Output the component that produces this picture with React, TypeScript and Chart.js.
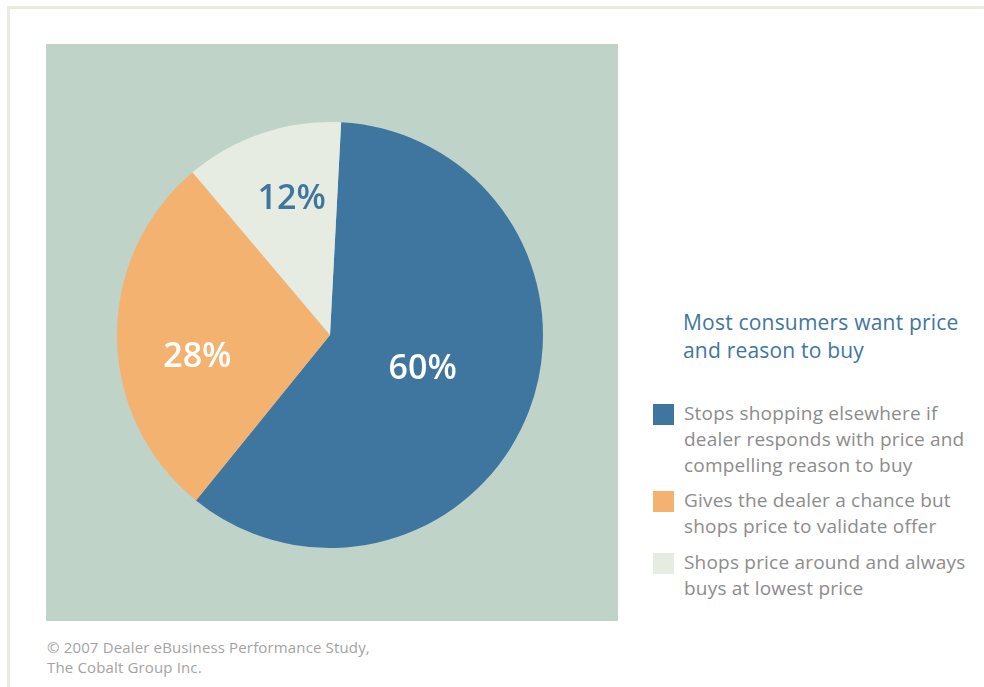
import React, { useEffect, useRef } from "react";
import { Chart, registerables } from "chart.js";

Chart.register(...registerables);

const categories = [
  "Stops shopping elsewhere if dealer responds with price and compelling reason to buy",
  "Gives the dealer a chance but shops price to validate offer",
  "Shops price around and always buys at lowest price",
];
const legendLines = [
  ["Stops shopping elsewhere if", "dealer responds with price and", "compelling reason to buy"],
  ["Gives the dealer a chance but", "shops price to validate offer"],
  ["Shops price around and always", "buys at lowest price"],
];
const values = [60, 28, 12];
const valueLabels = ["60%", "28%", "12%"];
const colors = ["#3F76A0", "#F3B26F", "#E6ECE2"];
const labelColors = ["#FFFFFF", "#FFFFFF", "#3F76A0"];
const labelRadius = [0.46, 0.63, 0.67];
const labelAngleShift = [-2, -8, 3];
const title = ["Most consumers want price", "and reason to buy"];
const footnote = ["© 2007 Dealer eBusiness Performance Study,", "The Cobalt Group Inc."];

const FONT = "'Open Sans', 'Noto Sans', sans-serif";

const labelPlugin = {
  id: "sliceLabels",
  afterDatasetsDraw(chart: any) {
    const ctx = chart.ctx;
    const meta = chart.getDatasetMeta(0);
    meta.data.forEach((arc: any, i: number) => {
      const mid = (arc.startAngle + arc.endAngle) / 2 + (labelAngleShift[i] * Math.PI) / 180;
      const r = arc.outerRadius * labelRadius[i];
      const x = arc.x + Math.cos(mid) * r;
      const y = arc.y + Math.sin(mid) * r + 2;
      ctx.save();
      ctx.font = `600 34px ${FONT}`;
      ctx.fillStyle = labelColors[i];
      ctx.textAlign = "center";
      ctx.textBaseline = "middle";
      ctx.fillText(valueLabels[i], x, y);
      ctx.restore();
    });
  },
};

export default function App() {
  const ref = useRef<HTMLCanvasElement>(null);
  useEffect(() => {
    if (!ref.current) return;
    const chart = new Chart(ref.current, {
      type: "pie",
      data: {
        labels: categories,
        datasets: [
          {
            data: values,
            backgroundColor: colors,
            borderWidth: 0,
          },
        ],
      },
      options: {
        animation: false,
        responsive: false,
        rotation: 3,
        layout: { padding: { left: 71, right: 75, top: 78, bottom: 73 } },
        plugins: { legend: { display: false }, tooltip: { enabled: false } },
      },
      plugins: [labelPlugin],
    });
    return () => chart.destroy();
  }, []);

  return (
    <div style={{ position: "absolute", left: 0, top: 0, width: 984, height: 687, background: "#fff", overflow: "hidden", fontFamily: FONT }}>
      <div style={{ position: "absolute", left: 7, top: 6, width: 990, height: 700, borderTop: "3px solid #E8EBE0", borderLeft: "3px solid #E8EBE0" }} />
      <div style={{ position: "absolute", left: 46, top: 44, width: 572, height: 577, background: "#BFD3C8" }}>
        <canvas ref={ref} width={572} height={577} style={{ display: "block", width: 572, height: 577 }} />
      </div>
      <div style={{ position: "absolute", left: 683, top: 308, color: "#3F76A0", fontSize: 21, letterSpacing: 0.2, lineHeight: "28px", whiteSpace: "nowrap" }}>
        {title.map((t, i) => (
          <div key={i}>{t}</div>
        ))}
      </div>
      {legendLines.map((lines, i) => {
        const tops = [400, 487, 549];
        return (
          <div key={i} style={{ position: "absolute", left: 653, top: tops[i], display: "flex", alignItems: "flex-start" }}>
            <div style={{ width: 21, height: 21, background: colors[i], marginTop: 4, marginRight: 10, flex: "none" }} />
            <div style={{ color: "#8C8C8C", fontSize: 19, letterSpacing: 0.2, lineHeight: "26px", whiteSpace: "nowrap" }}>
              {lines.map((l, j) => (
                <div key={j}>{l}</div>
              ))}
            </div>
          </div>
        );
      })}
      <div style={{ position: "absolute", left: 47, top: 637, color: "#A3A3A3", fontSize: 15, letterSpacing: 0.15, lineHeight: "20px", whiteSpace: "nowrap" }}>
        {footnote.map((t, i) => (
          <div key={i}>{t}</div>
        ))}
      </div>
    </div>
  );
}
